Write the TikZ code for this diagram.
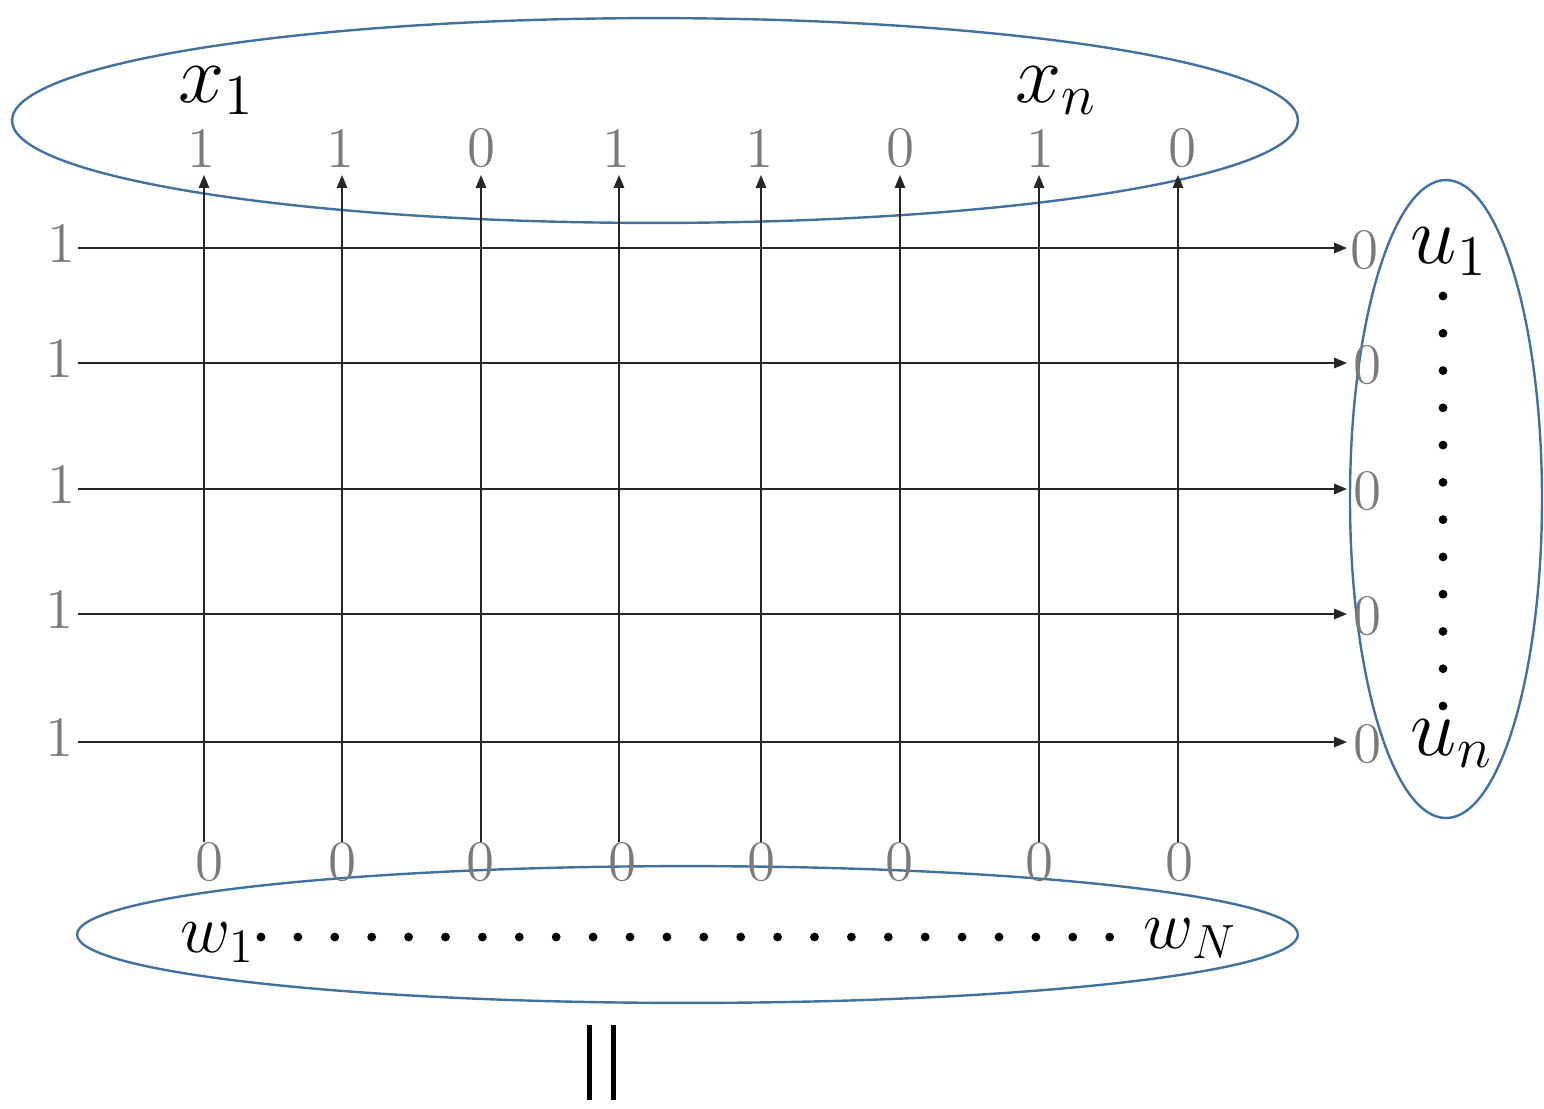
\documentclass[tikz,border=0pt]{standalone}
\usetikzlibrary{arrows.meta}
\definecolor{ellblue}{RGB}{65,113,156}
\begin{document}
\begin{tikzpicture}[x=0.25pt,y=-0.25pt,
  dig/.style={text=black!52,font=\fontsize{14.3}{16}\selectfont,inner sep=0pt},
  lab/.style={font=\fontsize{20}{24}\selectfont,inner sep=0pt,anchor=base west},
  wlab/.style={lab,font=\fontsize{18}{22}\selectfont},
  arr/.style={draw=black!85,line width=0.35pt,-{Triangle[length=3.2pt,width=2.6pt]}},
  ell/.style={draw=ellblue,line width=0.6pt},
  dotf/.style={fill=black}]
\useasboundingbox (0,0) rectangle (1544,1108);
% ellipses
\draw[ell] (655,120.5) ellipse [x radius=160.75pt, y radius=25.6pt];
\draw[ell] (1446,499) ellipse [x radius=24pt, y radius=79.75pt];
\draw[ell] (687.5,934.5) ellipse [x radius=152.6pt, y radius=17.1pt];
% vertical arrows
\foreach \x/\t/\tx/\bx [count=\i] in {204/1/202/210, 342/1/341/343, 481/0/482/481, 619/1/617/623, 761/1/760/762, 900/0/901/900, 1039/1/1041/1040, 1178/0/1183/1180} {
  \node[dig] (t\i) at (\tx,148) {\t};
  \node[dig] (b\i) at (\bx,862) {0};
  \coordinate (vs\i) at (\x,842);
  \coordinate (ve\i) at (\x,175);
  \draw[arr] (vs\i) -- (ve\i);
}
% horizontal arrows
\foreach \y/\lx/\rx [count=\i] in {248/62/1365, 363/60/1368, 489/62/1368, 614/60/1368, 742/60/1368} {
  \node[dig] (l\i) at (\lx,\y-5) {1};
  \node[dig] (r\i) at (\rx,\y+2) {0};
  \coordinate (hs\i) at (78,\y);
  \coordinate (he\i) at (1347,\y);
  \draw[arr] (hs\i) -- (he\i);
}
% labels
\node[lab] (x1) at (178,102) {$x_1$};
\node[lab] (xn) at (1015,102) {$x_n$};
\node[lab] (u1) at (1410,263) {$u_1$};
\node[lab] (un) at (1410,755) {$u_n$};
\node[wlab] (w1) at (180,952) {$w_1$};
\node[wlab] (wN) at (1143,948) {$w_N$};
% dots
\foreach \i in {0,...,11} \fill[dotf] (1443,{296+\i*37.27}) circle[radius=1.1pt];
\foreach \i in {0,...,23} \fill[dotf] ({261+\i*36.9},937) circle[radius=1.1pt];
% double bar
\draw[line width=1.25pt] (589,1025) -- (589,1100);
\draw[line width=1.25pt] (613,1025) -- (613,1100);
\end{tikzpicture}
\end{document}
